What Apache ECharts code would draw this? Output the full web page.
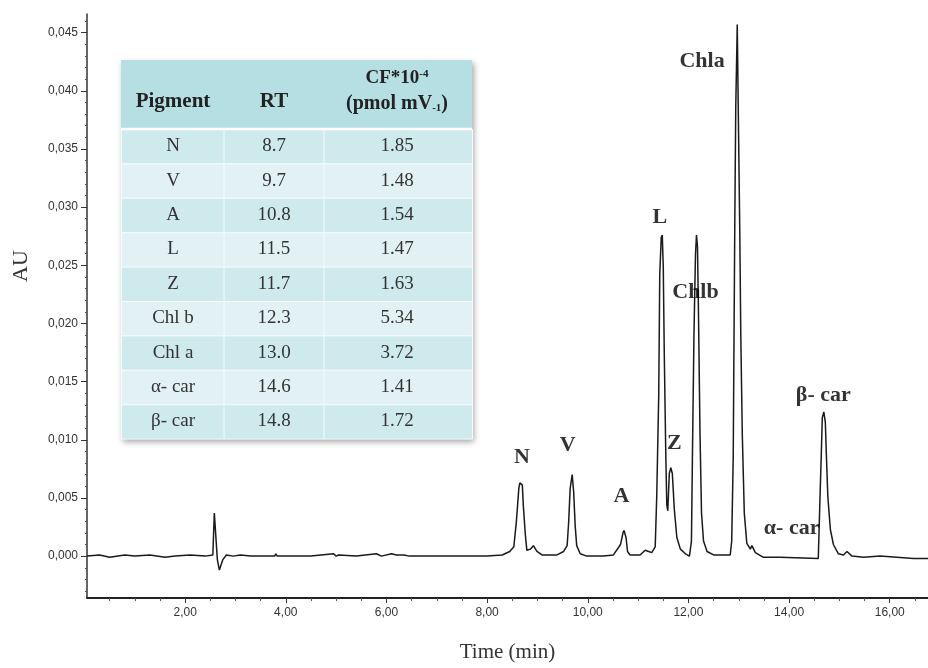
<!DOCTYPE html>
<html>
<head>
<meta charset="utf-8">
<title>HPLC chromatogram</title>
<script src="https://cdn.jsdelivr.net/npm/echarts@6.0.0/dist/echarts.min.js"></script>
<style>
  html,body{margin:0;padding:0;background:#fff;}
  #main{width:928px;height:668px;}
</style>
</head>
<body>
<div id="main"></div>
<script>
// chromatogram trace (time in min, absorbance in AU)
var time = [0.05,0.3,0.5,0.8,1.0,1.3,1.6,1.8,2.1,2.4,2.55,2.58,2.61,2.64,2.68,2.75,2.82,2.95,3.1,3.3,3.5,3.78,3.8,3.83,4.5,4.95,5.0,5.05,5.4,5.8,5.9,6.1,6.2,6.35,6.45,8.0,
  8.3,8.45,8.53,8.58,8.63,8.65,8.67,8.7,8.72,8.76,8.79,8.86,8.92,8.99,9.09,
  9.39,9.52,9.59,9.62,9.65,9.69,9.72,9.75,9.78,9.85,9.98,
  10.31,10.51,10.65,10.7,10.72,10.76,10.79,10.84,11.04,11.14,11.21,11.27,11.34,
  11.37,11.41,11.43,11.46,11.48,11.5,11.52,11.55,11.57,11.59,11.62,11.65,11.68,11.72,11.77,11.84,11.94,12.02,
  12.06,12.08,12.11,12.14,12.16,12.18,12.2,12.23,12.26,12.3,12.37,12.5,12.83,
  12.86,12.89,12.92,12.94,12.97,12.99,13.02,13.04,13.07,13.11,13.16,13.23,13.26,13.33,13.49,13.82,14.58,
  14.61,14.64,14.66,14.69,14.72,14.74,14.77,14.82,14.88,14.98,15.08,15.15,15.25,15.48,15.81,16.14,16.47,16.76];
var au = [0.0000,0.0001,-0.0001,0.0001,0.0000,0.0001,-0.0001,0.0000,0.0001,0.0000,0.0001,0.0037,0.0037,-0.0003,-0.0012,-0.0003,0.0001,0.0000,0.0001,0.0000,0.0000,0.0000,0.0002,0.0000,0.0000,0.0002,0.0000,0.0001,0.0000,0.0002,0.0000,0.0002,0.0001,0.0001,0.0000,0.0000,
  0.0001,0.0004,0.0008,0.0029,0.0058,0.0063,0.0064,0.0061,0.0043,0.0018,0.0005,0.0006,0.0009,0.0004,0.0001,
  0.0001,0.0004,0.0009,0.0029,0.0058,0.0070,0.0055,0.0026,0.0009,0.0002,0.0000,
  0.0000,0.0001,0.0010,0.0020,0.0022,0.0016,0.0004,0.0001,0.0001,0.0005,0.0004,0.0003,0.0008,
  0.0051,0.0139,0.0242,0.0274,0.0276,0.0249,0.0174,0.0088,0.0044,0.0039,0.0071,0.0076,0.0071,0.0040,0.0016,0.0006,0.0002,0.0000,
  0.0013,0.0088,0.0191,0.0259,0.0276,0.0266,0.0208,0.0105,0.0037,0.0013,0.0004,0.0001,0.0001,
  0.0013,0.0085,0.0280,0.0385,0.0457,0.0385,0.0280,0.0191,0.0105,0.0037,0.0011,0.0006,0.0009,0.0003,-0.0001,-0.0001,-0.0002,
  0.0044,0.0088,0.0119,0.0124,0.0115,0.0088,0.0051,0.0023,0.0010,0.0002,0.0001,0.0004,0.0000,-0.0001,0.0000,-0.0001,-0.0002,-0.0002];

// peak names written over the trace
var peakNames = ['N','V','A','L','Z','Chlb','Chla','\u03b1- car','\u03b2- car'];
var peakLabelT = [8.69,9.6,10.67,11.43,11.72,12.14,12.27,14.05,14.68];
var peakLabelV = [0.0085,0.0095,0.0051,0.0291,0.0097,0.0227,0.0425,0.0024,0.0138];

// axis ticks
var yTicks = [0,0.005,0.01,0.015,0.02,0.025,0.03,0.035,0.04,0.045];
var xTicks = [2,4,6,8,10,12,14,16];

// inset table
var pigments = ['N','V','A','L','Z','Chl b','Chl a','\u03b1- car','\u03b2- car'];
var rtValues = ['8.7','9.7','10.8','11.5','11.7','12.3','13.0','14.6','14.8'];
var cfValues = ['1.85','1.48','1.54','1.47','1.63','5.34','3.72','1.41','1.72'];

!function(){
  var myChart = echarts.init(document.getElementById('main'));

  var trace = [];
  for(var i=0;i<time.length;i++){ trace.push([time[i], au[i]]); }
  var labels = [];
  for(var j=0;j<peakNames.length;j++){ labels.push([peakLabelT[j], peakLabelV[j], peakNames[j]]); }

  // minor ticks
  var xMinor = [];
  for(var t=0.5;t<=16.5;t+=0.5){ if(Math.abs(t/2-Math.round(t/2))>0.01) xMinor.push(+t.toFixed(2)); }
  var yMinor = [];
  for(var k=-3;k<=46;k++){ if(k%5!==0) yMinor.push(k/1000); }

  /* table drawn with graphic */
  var tx=121, ty=60, tw=351, hh=69, rh=34.4;
  var colX=[121,224,324,472];
  var colMid=[173,274,397];
  var g=[];
  g.push({type:'rect',left:tx,top:ty,z:10,shape:{width:tw,height:hh+rh*pigments.length},
    style:{fill:'#cde9ec',shadowBlur:6,shadowOffsetX:2,shadowOffsetY:3,shadowColor:'rgba(0,0,0,0.35)'}});
  g.push({type:'rect',left:tx,top:ty,z:11,shape:{width:tw,height:hh},style:{fill:'#b6dfe3'}});
  for(var r=0;r<pigments.length;r++){
    var y0=ty+hh+r*rh;
    g.push({type:'rect',left:tx,top:y0,z:11,shape:{width:tw,height:rh},
      style:{fill:r%2===0?'#cfeaed':'#e2f2f4',stroke:'#f4fbfb',lineWidth:1}});
    var cells=[pigments[r],rtValues[r],cfValues[r]];
    for(var c=0;c<3;c++){
      g.push({type:'text',x:colMid[c],y:y0+rh/2,z:13,
        style:{text:cells[c],fill:'#333',font:'19px "Liberation Serif"',align:'center',verticalAlign:'middle'}});
    }
  }
  g.push({type:'line',z:12,shape:{x1:tx,y1:ty+hh,x2:tx+tw,y2:ty+hh},style:{stroke:'#fff',lineWidth:2.5}});
  for(var d=1;d<3;d++){
    g.push({type:'line',z:12,shape:{x1:colX[d],y1:ty+hh,x2:colX[d],y2:ty+hh+rh*pigments.length},style:{stroke:'#f4fbfb',lineWidth:1}});
  }
  g.push({type:'text',x:colMid[0],y:ty+42,z:13,style:{text:'Pigment',fill:'#222',font:'bold 21px "Liberation Serif"',align:'center',verticalAlign:'middle'}});
  g.push({type:'text',x:colMid[1],y:ty+42,z:13,style:{text:'RT',fill:'#222',font:'bold 21px "Liberation Serif"',align:'center',verticalAlign:'middle'}});
  g.push({type:'text',x:colMid[2],y:ty+18,z:13,style:{text:'{a|CF*10}{s|-4}',align:'center',verticalAlign:'middle',
    rich:{a:{fill:'#222',font:'bold 19px "Liberation Serif"'},s:{fill:'#222',font:'bold 11px "Liberation Serif"',verticalAlign:'top',padding:[0,0,8,0]}}}});
  g.push({type:'text',x:colMid[2],y:ty+44,z:13,style:{text:'{a|(pmol mV}{s|-1}{a|)}',align:'center',verticalAlign:'middle',
    rich:{a:{fill:'#222',font:'bold 20px "Liberation Serif"'},s:{fill:'#222',font:'bold 11px "Liberation Serif"',verticalAlign:'bottom',padding:[8,0,0,0]}}}});
  // y axis title
  g.push({type:'text',x:21,y:266,rotation:Math.PI/2,z:5,style:{text:'AU',fill:'#333',font:'22px "Liberation Serif"',align:'center',verticalAlign:'middle'}});

  var option = {
    backgroundColor:'#fff',
    animation:false,
    grid:{left:87,right:0,top:14,bottom:69},
    xAxis:[{
      type:'value',min:0.05,max:16.76,
      name:'Time (min)',nameLocation:'middle',nameGap:44,
      nameTextStyle:{fontFamily:'Liberation Serif',fontSize:21,color:'#333'},
      splitLine:{show:false},
      axisLine:{show:true,onZero:false,lineStyle:{color:'#222',width:2}},
      axisTick:{show:true,customValues:xTicks,length:5,lineStyle:{color:'#333'}},
      axisLabel:{customValues:xTicks,margin:9,color:'#333',fontFamily:'Liberation Sans',fontSize:12,
        formatter:function(v){return v.toFixed(2).replace('.',',');}}
    },{
      type:'value',min:0.05,max:16.76,position:'bottom',
      splitLine:{show:false},axisLine:{show:false,onZero:false},axisLabel:{show:false},
      axisTick:{show:true,customValues:xMinor,length:3,lineStyle:{color:'#555'}}
    }],
    yAxis:[{
      type:'value',min:-0.0036,max:0.0466,
      splitLine:{show:false},
      axisLine:{show:true,onZero:false,lineStyle:{color:'#333',width:1.5}},
      axisTick:{show:true,customValues:yTicks,length:6,lineStyle:{color:'#333'}},
      axisLabel:{customValues:yTicks,margin:9,color:'#333',fontFamily:'Liberation Sans',fontSize:12,
        formatter:function(v){return v.toFixed(3).replace('.',',');}}
    },{
      type:'value',min:-0.0036,max:0.0466,position:'left',
      splitLine:{show:false},axisLine:{show:false,onZero:false},axisLabel:{show:false},
      axisTick:{show:true,customValues:yMinor,length:2,lineStyle:{color:'#555'}}
    }],
    series:[{
      type:'line',data:trace,showSymbol:false,symbol:'none',smooth:false,
      lineStyle:{color:'#1a1a1a',width:1.5},z:3
    },{
      type:'scatter',data:labels,symbolSize:0,z:4,
      label:{show:true,position:'inside',color:'#000',fontFamily:'Liberation Serif',fontWeight:'bold',fontSize:22,
        formatter:function(p){return p.data[2];}}
    }],
    graphic:g
  };

  myChart.setOption(option);
}();
</script>
</body>
</html>
